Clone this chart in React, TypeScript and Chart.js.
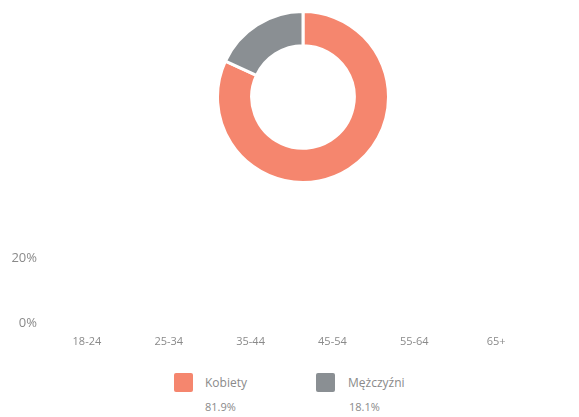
import React, { useEffect, useRef } from "react";
import { Chart, registerables } from "chart.js";

Chart.register(...registerables);

const genderLabels = ["Kobiety", "Mężczyźni"];
const genderShares = [81.9, 18.1];
const genderColors = ["#F5866E", "#8A8F93"];

const ageGroups = ["18-24", "25-34", "35-44", "45-54", "55-64", "65+"];
const womenByAge = [0, 0, 0, 0, 0, 0];
const menByAge = [0, 0, 0, 0, 0, 0];
const yTicks = [0, 20];

const FONT = "'Open Sans', 'DejaVu Sans', sans-serif";

export default function App() {
  const donutRef = useRef<HTMLCanvasElement>(null);
  const barRef = useRef<HTMLCanvasElement>(null);

  useEffect(() => {
    const donut = new Chart(donutRef.current!, {
      type: "doughnut",
      data: {
        labels: genderLabels,
        datasets: [
          {
            data: genderShares,
            backgroundColor: genderColors,
            borderColor: "#ffffff",
            borderWidth: 3,
          },
        ],
      },
      options: {
        responsive: false,
        maintainAspectRatio: false,
        animation: false,
        cutout: "60%",
        plugins: { legend: { display: false }, tooltip: { enabled: false } },
        layout: { padding: 0 },
      },
    });

    const bar = new Chart(barRef.current!, {
      type: "bar",
      data: {
        labels: ageGroups,
        datasets: [
          { label: genderLabels[0], data: womenByAge, backgroundColor: genderColors[0] },
          { label: genderLabels[1], data: menByAge, backgroundColor: genderColors[1] },
        ],
      },
      options: {
        responsive: false,
        maintainAspectRatio: false,
        animation: false,
        layout: { padding: { left: 4, right: 42, top: 0, bottom: 0 } },
        plugins: { legend: { display: false }, tooltip: { enabled: false } },
        scales: {
          x: {
            grid: { display: false, drawTicks: false },
            border: { display: false },
            ticks: {
              padding: 12,
              color: "#8a8a8a",
              font: { family: FONT, size: 11 },
              maxRotation: 0,
            },
          },
          y: {
            min: yTicks[0],
            max: yTicks[yTicks.length - 1],
            grid: { display: false, drawTicks: false },
            border: { display: false },
            afterFit: (s: any) => {
              s.width = 42;
            },
            afterBuildTicks: (s: any) => {
              s.ticks = yTicks.map((v) => ({ value: v }));
            },
            ticks: {
              padding: 9,
              color: "#8a8a8a",
              font: { family: FONT, size: 13 },
              callback: (v: any) => v + "%",
            },
          },
        },
      },
    });

    return () => {
      donut.destroy();
      bar.destroy();
    };
  }, []);

  const legendText: React.CSSProperties = {
    position: "absolute",
    fontFamily: FONT,
    fontSize: 12,
    color: "#8a8a8a",
    lineHeight: "14px",
    whiteSpace: "nowrap",
  };

  return (
    <div style={{ position: "absolute", left: 0, top: 0, width: 579, height: 417, background: "#fff" }}>
      <canvas
        ref={donutRef}
        width={174}
        height={174}
        style={{ position: "absolute", left: 216, top: 10, width: 174, height: 174 }}
      />
      <canvas
        ref={barRef}
        width={579}
        height={119}
        style={{ position: "absolute", left: 0, top: 241, width: 579, height: 119 }}
      />
      <div style={{ position: "absolute", left: 174, top: 373, width: 19, height: 19, background: genderColors[0], borderRadius: 2 }} />
      <div style={{ ...legendText, left: 205, top: 376 }}>{genderLabels[0]}</div>
      <div style={{ ...legendText, left: 205, top: 400, fontSize: 11 }}>{genderShares[0].toFixed(1)}%</div>
      <div style={{ position: "absolute", left: 316, top: 373, width: 19, height: 19, background: genderColors[1], borderRadius: 2 }} />
      <div style={{ ...legendText, left: 348, top: 376 }}>{genderLabels[1]}</div>
      <div style={{ ...legendText, left: 349, top: 400, fontSize: 11 }}>{genderShares[1].toFixed(1)}%</div>
    </div>
  );
}
